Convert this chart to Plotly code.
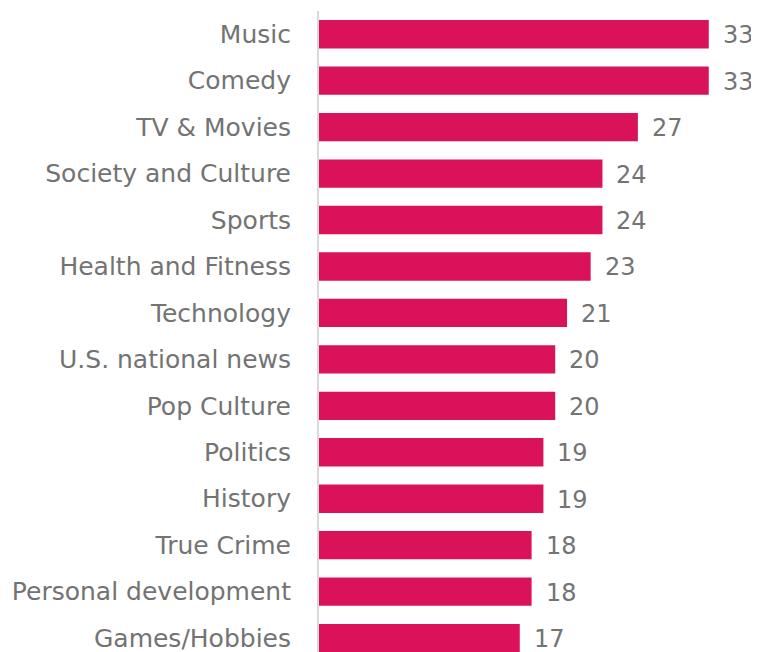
import plotly.graph_objects as go

categories = ["Music", "Comedy", "TV & Movies", "Society and Culture", "Sports",
              "Health and Fitness", "Technology", "U.S. national news", "Pop Culture",
              "Politics", "History", "True Crime", "Personal development", "Games/Hobbies"]
values = [33, 33, 27, 24, 24, 23, 21, 20, 20, 19, 19, 18, 18, 17]

BAR_COLOR = "#D91259"
TEXT_COLOR = "#737373"
FONT = "DejaVu Sans"

fig = go.Figure()
fig.add_trace(go.Bar(
    x=values, y=categories, orientation="h",
    marker=dict(color=BAR_COLOR, line=dict(width=0)),
    width=0.61, hoverinfo="skip", cliponaxis=False,
))

for c, v in zip(categories, values):
    fig.add_annotation(x=v, y=c, text=str(v), showarrow=False,
                       xanchor="left", xshift=12, yshift=-1,
                       font=dict(family=FONT, size=24, color=TEXT_COLOR))

fig.update_layout(
    width=759, height=652,
    margin=dict(l=311, r=11, t=3, b=8, pad=0, autoexpand=False),
    paper_bgcolor="white", plot_bgcolor="white",
    showlegend=False,
    font=dict(family=FONT, size=24, color=TEXT_COLOR),
)
fig.update_xaxes(range=[0, 37], showgrid=False, showticklabels=False,
                 zeroline=False, showline=False, automargin=False)
fig.update_yaxes(type="category", categoryorder="array", categoryarray=categories,
                 range=[13.3, -0.5], showgrid=False, zeroline=False, automargin=False,
                 showline=True, linecolor="#D9D9D9", linewidth=2,
                 ticks="", ticklabelstandoff=21,
                 tickfont=dict(family=FONT, size=25, color=TEXT_COLOR))

fig.write_html("out.html")
